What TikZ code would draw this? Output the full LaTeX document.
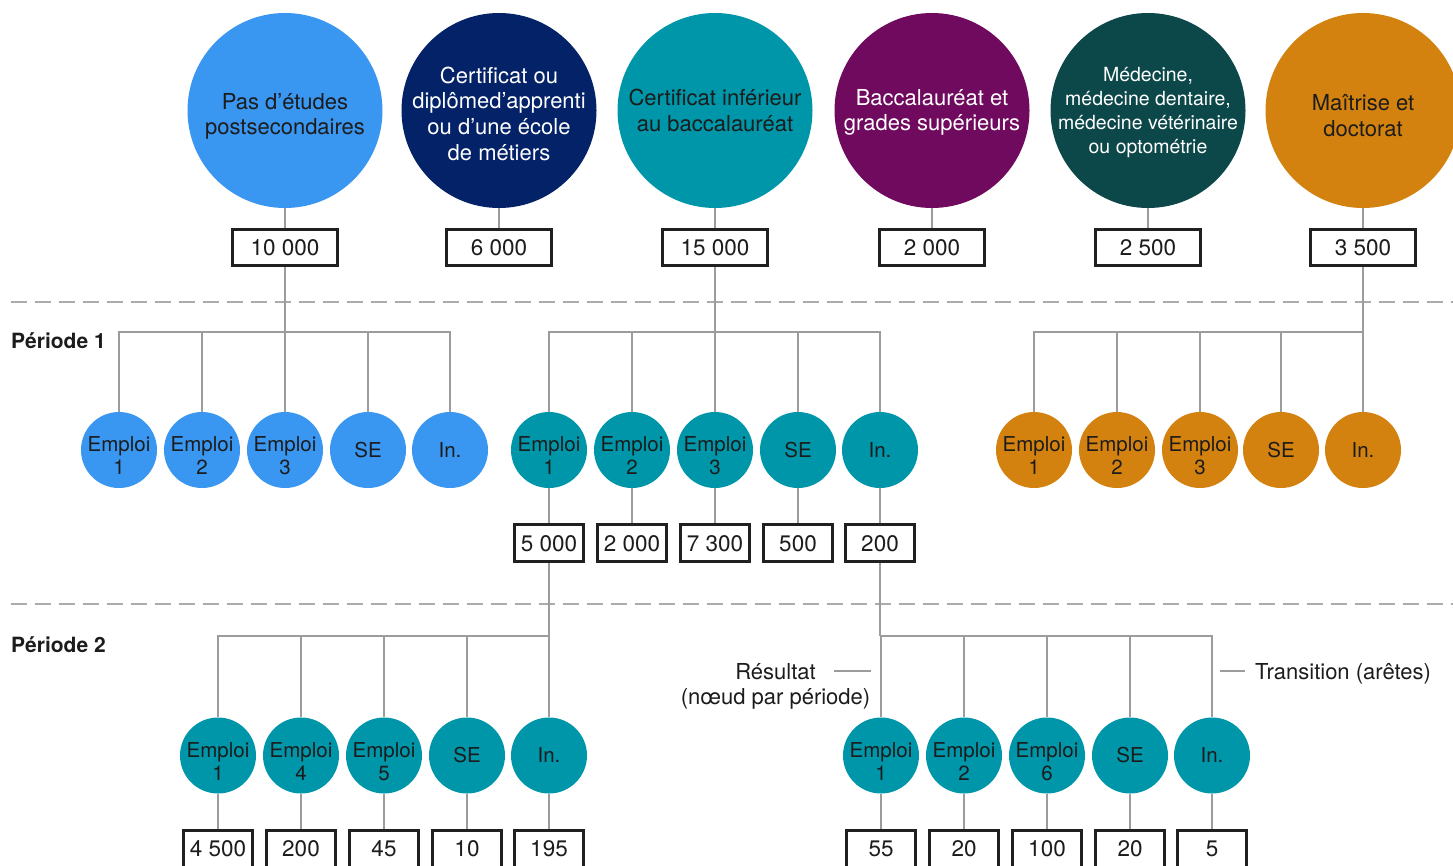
\documentclass[tikz,border=0pt]{standalone}
\usepackage{fontspec}
\setmainfont{TeX Gyre Heros}
\definecolor{cBlue}{HTML}{3996F1}
\definecolor{cNavy}{HTML}{032268}
\definecolor{cTeal}{HTML}{0096A9}
\definecolor{cPlum}{HTML}{700A5E}
\definecolor{cPine}{HTML}{0C4749}
\definecolor{cAmber}{HTML}{D4820F}
\definecolor{ink}{HTML}{1C1C1C}
\definecolor{wire}{HTML}{9C9C9C}
\definecolor{rulegray}{HTML}{ABABAB}
\definecolor{frame}{HTML}{202020}

% small outcome circles: "Emploi n" (two lines) and single-word states
\newcommand\jobnode[5]{%
  \node[smallc,fill=#4] (#1) at (#2,#3) {};
  \node[smallt] (#1t) at ([yshift=-6pt]#1.center) {Emploi\\#5};}
\newcommand\statenode[5]{%
  \node[smallc,fill=#4] (#1) at (#2,#3) {};
  \node[smallt] (#1t) at (#1.center) {#5};}

\begin{document}
\begin{tikzpicture}[x=1pt,y=-1pt,
  bigc/.style={circle,minimum size=195pt,inner sep=0pt},
  bigt/.style={align=center,inner sep=0pt,font=\fontsize{22}{25.7}\selectfont,text=ink},
  smallc/.style={circle,minimum size=76pt,inner sep=0pt},
  smallt/.style={align=center,inner sep=0pt,font=\fontsize{20.5}{23}\selectfont,text=ink},
  numbox/.style={draw=frame,line width=3pt,fill=white,inner sep=0pt,
    minimum width=105.6pt,minimum height=35.4pt,font=\fontsize{22.5}{26}\selectfont,text=ink},
  numsm/.style={numbox,minimum width=69.4pt,minimum height=37pt},
  conn/.style={draw=wire,line width=2.6pt},
  sepline/.style={draw=rulegray,line width=1.6pt,dash pattern=on 16pt off 8pt},
  period/.style={anchor=base west,inner sep=0pt,font=\bfseries\fontsize{21}{25}\selectfont,text=ink},
  legend/.style={inner sep=0pt,align=center,font=\fontsize{22}{25}\selectfont,text=ink},
  legline/.style={draw=wire,line width=1.4pt}
]
\useasboundingbox (0,0) rectangle (1453,865);
\clip (0,0) rectangle (1453,865);

% period separators
\coordinate (s1a) at (11,302);  \coordinate (s1b) at (1470,302);
\coordinate (s2a) at (11,604);  \coordinate (s2b) at (1470,604);
\draw[sepline] (s1a) -- (s1b);
\draw[sepline] (s2a) -- (s2b);

% education levels
\node[bigc,fill=cBlue]  (t1) at (285,110.5) {};
\node[bigc,fill=cNavy]  (t2) at (499,110.5) {};
\node[bigc,fill=cTeal]  (t3) at (715,110.5) {};
\node[bigc,fill=cPlum]  (t4) at (932,110.5) {};
\node[bigc,fill=cPine]  (t5) at (1148,110.5) {};
\node[bigc,fill=cAmber] (t6) at (1363,110.5) {};
\node[bigt] (t1l) at ([yshift=-6pt]t1.center) {Pas d’études\\postsecondaires};
\node[bigt,text=white] (t2l) at ([yshift=-3pt]t2.center) {Certificat ou\\diplômed’apprenti\\ou d’une école\\de métiers};
\node[bigt] (t3l) at (t3.center) {Certificat inférieur\\au baccalauréat};
\node[bigt,text=white] (t4l) at ([yshift=-2pt]t4.center) {Baccalauréat et\\grades supérieurs};
\node[bigt,text=white,font=\fontsize{19.5}{24}\selectfont] (t5l) at ([yshift=-2pt]t5.center)
  {Médecine,\\médecine dentaire,\\médecine vétérinaire\\ou optométrie};
\node[bigt] (t6l) at ([yshift=-5pt]t6.center) {Maîtrise et\\doctorat};

\node[numbox] (b1) at (285,247.5) {10 000};
\node[numbox] (b2) at (499,247.5) {6 000};
\node[numbox] (b3) at (715,247.5) {15 000};
\node[numbox] (b4) at (932,247.5) {2 000};
\node[numbox] (b5) at (1148,247.5) {2 500};
\node[numbox] (b6) at (1363,247.5) {3 500};
\foreach \i in {1,...,6} \draw[conn] (t\i) -- (b\i);

% period 1
\node[period] (per1) at (11,348) {Période 1};

\jobnode{a1}{119}{450}{cBlue}{1}
\jobnode{a2}{202}{450}{cBlue}{2}
\jobnode{a3}{285}{450}{cBlue}{3}
\statenode{a4}{368}{450}{cBlue}{SE}
\statenode{a5}{450}{450}{cBlue}{In.}

\jobnode{m1}{549}{450}{cTeal}{1}
\jobnode{m2}{632}{450}{cTeal}{2}
\jobnode{m3}{715}{450}{cTeal}{3}
\statenode{m4}{798}{450}{cTeal}{SE}
\statenode{m5}{880}{450}{cTeal}{In.}

\jobnode{o1}{1034}{450}{cAmber}{1}
\jobnode{o2}{1117}{450}{cAmber}{2}
\jobnode{o3}{1200}{450}{cAmber}{3}
\statenode{o4}{1281}{450}{cAmber}{SE}
\statenode{o5}{1363}{450}{cAmber}{In.}

\coordinate (ja) at (285,332);
\coordinate (jm) at (715,332);
\coordinate (jo) at (1363,332);
\draw[conn] (b1) -- (ja);
\draw[conn] (b3) -- (jm);
\draw[conn] (b6) -- (jo);
\foreach \g in {a,m,o}{
  \draw[conn] (\g1) -- (\g1 |- ja) -- (\g5 |- ja) -- (\g5);
  \foreach \i in {2,3,4} \draw[conn] (\g\i) -- (\g\i |- ja);
}

\node[numsm] (mb1) at (549,543.3) {5 000};
\node[numsm] (mb2) at (632,543.3) {2 000};
\node[numsm] (mb3) at (715,543.3) {7 300};
\node[numsm] (mb4) at (798,543.3) {500};
\node[numsm] (mb5) at (880,543.3) {200};
\foreach \i in {1,...,5} \draw[conn] (m\i) -- (mb\i);

% period 2
\node[period] (per2) at (11,652) {Période 2};

\jobnode{q1}{218}{755.5}{cTeal}{1}
\jobnode{q2}{301}{755.5}{cTeal}{4}
\jobnode{q3}{384}{755.5}{cTeal}{5}
\statenode{q4}{467}{755.5}{cTeal}{SE}
\statenode{q5}{549}{755.5}{cTeal}{In.}

\jobnode{r1}{881}{755.5}{cTeal}{1}
\jobnode{r2}{964}{755.5}{cTeal}{2}
\jobnode{r3}{1047}{755.5}{cTeal}{6}
\statenode{r4}{1130}{755.5}{cTeal}{SE}
\statenode{r5}{1212}{755.5}{cTeal}{In.}

\coordinate (jq) at (549,636);
\coordinate (jr) at (880,636);
\draw[conn] (mb1) -- (jq);
\draw[conn] (mb5) -- (jr);
\draw[conn] (q1) -- (q1 |- jq) -- (q5 |- jq) -- (q5);
\foreach \i in {2,3,4} \draw[conn] (q\i) -- (q\i |- jq);
\draw[conn] (r1) -- (r1 |- jr) -- (r5 |- jr) -- (r5);
\foreach \i in {2,3,4} \draw[conn] (r\i) -- (r\i |- jr);

\node[numsm] (qb1) at (218,849) {4 500};
\node[numsm] (qb2) at (301,849) {200};
\node[numsm] (qb3) at (384,849) {45};
\node[numsm] (qb4) at (467,849) {10};
\node[numsm] (qb5) at (549,849) {195};
\node[numsm] (rb1) at (881,849) {55};
\node[numsm] (rb2) at (964,849) {20};
\node[numsm] (rb3) at (1047,849) {100};
\node[numsm] (rb4) at (1130,849) {20};
\node[numsm] (rb5) at (1212,849) {5};
\foreach \i in {1,...,5} {
  \draw[conn] (q\i) -- (qb\i);
  \draw[conn] (r\i) -- (rb\i);
}

% legend
\node[legend] (res) at (775.5,686.8) {Résultat\\(nœud par période)};
\coordinate (resa) at (834,671);
\coordinate (resb) at (871,671);
\draw[legline] (resa) -- (resb);
\node[legend,anchor=base west] (tra) at (1255,679) {Transition (arêtes)};
\coordinate (traa) at (1220,671);
\coordinate (trab) at (1245,671);
\draw[legline] (traa) -- (trab);
\end{tikzpicture}
\end{document}
